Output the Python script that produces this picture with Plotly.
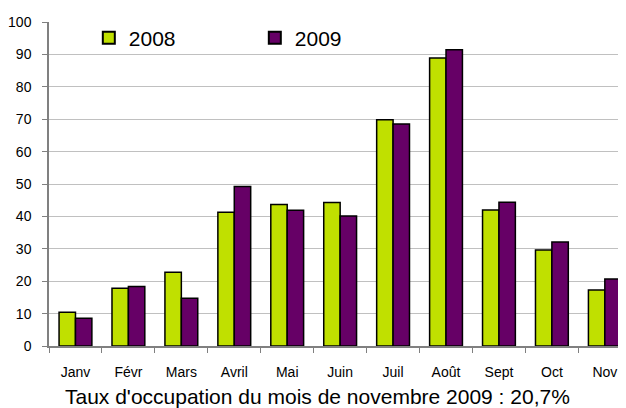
import plotly.graph_objects as go

months = ["Janv", "Févr", "Mars", "Avril", "Mai", "Juin", "Juil", "Août", "Sept", "Oct", "Nov"]
vals_2008 = [10.4, 17.8, 22.8, 41.3, 43.7, 44.3, 69.8, 88.9, 42.0, 29.6, 17.3]
vals_2009 = [8.6, 18.4, 14.7, 49.2, 41.9, 40.1, 68.5, 91.4, 44.4, 32.1, 20.7]
y_ticks = [0, 10, 20, 30, 40, 50, 60, 70, 80, 90, 100]
caption = "Taux d'occupation du mois de novembre 2009 : 20,7%"

fig = go.Figure()
fig.add_trace(go.Bar(x=months, y=vals_2008, name="2008",
                     marker=dict(color="#C0E000", line=dict(color="black", width=1.5))))
fig.add_trace(go.Bar(x=months, y=vals_2009, name="2009",
                     marker=dict(color="#660066", line=dict(color="black", width=1.5))))

fig.update_layout(
    width=618, height=400,
    margin=dict(l=41, r=0, t=14, b=62),
    paper_bgcolor="white", plot_bgcolor="white",
    barmode="group", bargap=0.38, bargroupgap=0,
    font=dict(family="Liberation Sans, Arial, sans-serif", color="black", size=13),
    showlegend=True,
    legend=dict(orientation="h", x=0.069, y=0.95, xanchor="left", yanchor="middle",
                font=dict(size=21), bgcolor="rgba(0,0,0,0)",
                entrywidth=121, itemsizing="constant"),
    xaxis=dict(range=[-0.5, 10.4], automargin=False, showline=True, linecolor="#808080",
               linewidth=1.5, ticks="outside", tickson="boundaries", ticklen=5,
               tickcolor="#808080", showgrid=False, tickfont=dict(size=14),
               ticklabelstandoff=12),
    yaxis=dict(range=[0, 100], tickvals=y_ticks, automargin=False, showline=True,
               linecolor="#808080", linewidth=1.5, ticks="outside", ticklen=5,
               tickcolor="#808080", showgrid=True, gridcolor="#C0C0C0", gridwidth=1,
               zeroline=False, tickfont=dict(size=14), ticklabelstandoff=8),
    annotations=[dict(text=caption, xref="paper", yref="paper", x=0.465, y=-0.157,
                      xanchor="center", yanchor="middle", showarrow=False,
                      font=dict(size=21))],
)
fig.write_html("out.html")
